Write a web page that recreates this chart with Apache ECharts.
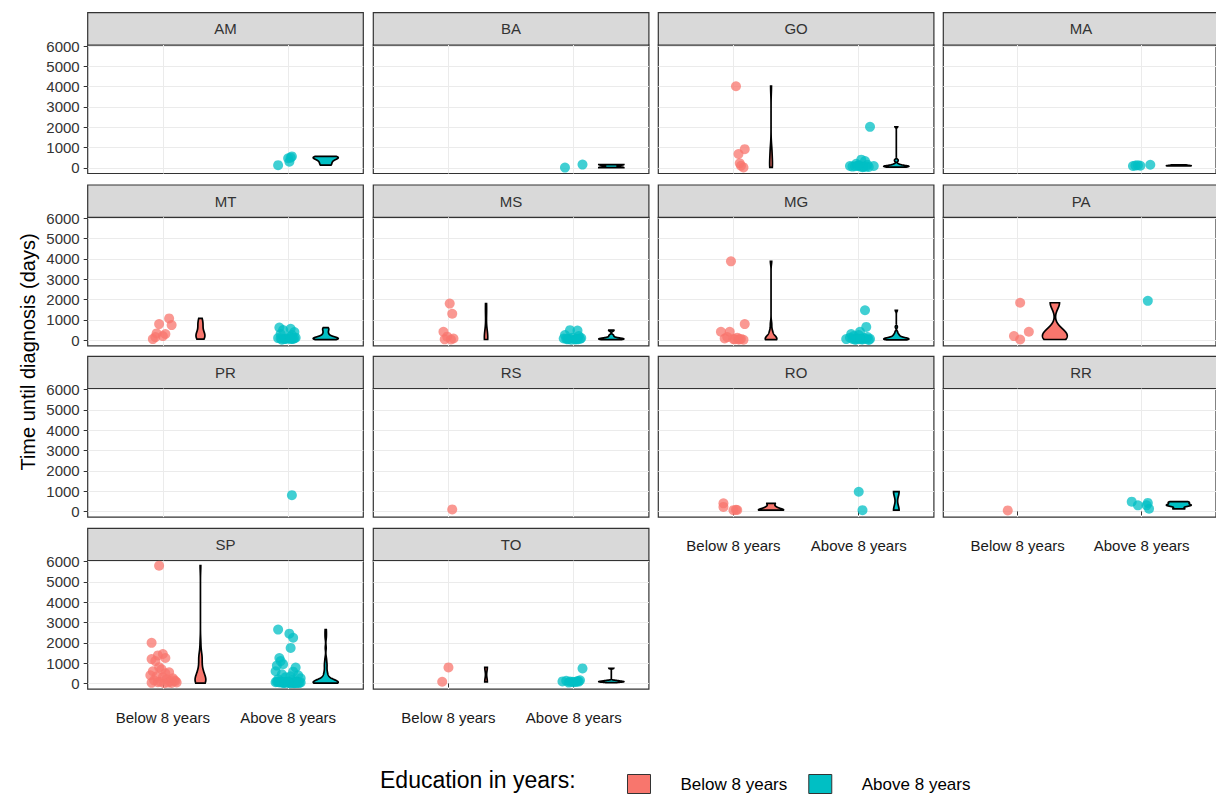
<!DOCTYPE html>
<html>
<head>
<meta charset="utf-8">
<script src="https://cdn.jsdelivr.net/npm/echarts@6/dist/echarts.min.js"></script>
<style>
html, body { margin: 0; background: #fff; }
#main { width: 1216px; height: 794px; }
</style>
</head>
<body>
<div id="main"></div>
<script>
// groups and y ticks
const groups = ['Below 8 years', 'Above 8 years'];
const yTicks = [0, 1000, 2000, 3000, 4000, 5000, 6000];

// points per state and group: [jitter around category, days]
const amBelow = [];
const amAbove = [[-0.08, 130], [0.01, 300], [0.03, 560], [0.02, 500], [0.0, 470]];
const baBelow = [];
const baAbove = [[-0.07, 10], [0.07, 160]];
const goBelow = [[0.02, 4020], [0.09, 920], [0.04, 680], [0.05, 220], [0.08, 20], [0.06, 100]];
const goAbove = [[0.09, 2020], [-0.07, 90], [0.0, 130], [0.05, 330], [0.12, 90], [0.03, 30], [-0.02, 200], [0.07, 150], [0.02, 400],
  [-0.05, 60], [0.01, 70], [0.04, 50], [-0.03, 80], [0.06, 60], [0.08, 40], [-0.01, 90]];
const maBelow = [];
const maAbove = [[-0.07, 90], [-0.05, 110], [-0.03, 130], [-0.01, 100], [0.07, 150]];
const mtBelow = [[-0.08, 50], [-0.03, 790], [-0.05, 330], [0.0, 200], [0.02, 300], [0.05, 1070], [0.07, 740], [-0.06, 150]];
const mtAbove = [[-0.07, 620], [-0.04, 500], [0.02, 560], [0.05, 400], [-0.06, 300], [0.03, 250], [-0.08, 100], [-0.03, 50], [0.0, 80],
  [0.06, 120], [-0.05, 20], [0.04, 60], [0.01, 150], [-0.02, 60], [0.03, 70], [-0.06, 80], [0.05, 90], [0.02, 50]];
const msBelow = [[0.01, 1800], [0.03, 1300], [-0.04, 410], [-0.01, 170], [0.04, 80], [-0.03, 40], [0.02, 30]];
const msAbove = [[-0.07, 250], [-0.03, 490], [0.03, 470], [0.04, 200], [-0.01, 120], [-0.08, 80], [-0.05, 40], [0.01, 30], [0.05, 60],
  [-0.02, 20], [0.06, 100], [0.02, 50], [-0.04, 60], [0.03, 40], [-0.06, 70]];
const mgBelow = [[-0.02, 3880], [0.09, 790], [-0.1, 410], [-0.03, 410], [-0.07, 80], [0.01, 40], [0.04, 30], [0.08, 20], [0.06, 60],
  [-0.05, 150], [0.03, 120], [0.0, 50], [0.05, 40]];
const mgAbove = [[0.05, 1470], [0.06, 650], [0.01, 410], [-0.1, 50], [-0.07, 120], [-0.04, 200], [-0.01, 80], [0.03, 30], [0.07, 150],
  [0.09, 60], [-0.06, 300], [0.0, 250], [0.04, 100], [-0.03, 20], [0.08, 10], [0.02, 40], [-0.05, 60], [0.06, 50], [-0.02, 30], [0.01, 70]];
const paBelow = [[0.02, 1840], [0.09, 410], [-0.03, 200], [0.02, 30]];
const paAbove = [[0.05, 1935]];
const prBelow = [];
const prAbove = [[0.03, 800]];
const rsBelow = [[0.03, 100]];
const rsAbove = [];
const roBelow = [[-0.08, 400], [-0.08, 220], [0.02, 80], [0.0, 60], [0.03, 70]];
const roAbove = [[0.0, 970], [0.03, 60]];
const rrBelow = [[-0.08, 50]];
const rrAbove = [[-0.08, 480], [-0.03, 300], [0.05, 420], [0.06, 130], [0.04, 300]];
const spBelow = [[-0.03, 5800], [-0.09, 2000], [0.0, 1450], [-0.04, 1380], [-0.09, 1200], [0.02, 1250], [-0.06, 1100], [-0.03, 800],
  [-0.08, 600], [0.05, 550], [-0.1, 400], [-0.05, 350], [0.0, 300], [0.08, 250], [0.03, 200], [-0.07, 150], [0.1, 120], [0.06, 100],
  [-0.02, 80], [0.11, 50], [0.04, 40], [-0.09, 30], [0.07, 20], [0.01, 10], [-0.04, 60], [0.09, 150], [0.02, 500], [-0.01, 700]];
const spAbove = [[-0.08, 2650], [0.01, 2450], [0.04, 2250], [0.02, 1750], [-0.07, 1250], [-0.04, 950], [-0.09, 880], [0.06, 780],
  [0.04, 580], [-0.1, 600], [-0.05, 450], [0.08, 400], [-0.02, 300], [0.1, 250], [-0.08, 200], [0.03, 150], [0.07, 100], [-0.06, 80],
  [0.0, 50], [0.09, 30], [-0.03, 20], [0.05, 10], [-0.1, 60], [0.02, 350], [-0.06, 1100],
  [0.0, 40], [0.03, 60], [-0.04, 30], [0.06, 70], [-0.07, 50], [0.08, 20], [-0.01, 90], [0.05, 40], [-0.09, 80], [0.02, 10],
  [0.01, 30], [-0.05, 50], [0.07, 40], [-0.02, 60], [0.04, 20], [-0.08, 70], [0.1, 50], [-0.03, 40], [0.06, 30], [0.0, 60]];
const toBelow = [[0.0, 790], [-0.05, 80]];
const toAbove = [[0.07, 740], [-0.09, 100], [-0.06, 130], [-0.03, 90], [0.0, 60], [0.03, 120], [0.05, 150], [-0.04, 40],
  [0.02, 70], [-0.01, 80], [0.04, 90]];

const panels = [
  ['AM', amBelow, amAbove], ['BA', baBelow, baAbove], ['GO', goBelow, goAbove], ['MA', maBelow, maAbove],
  ['MT', mtBelow, mtAbove], ['MS', msBelow, msAbove], ['MG', mgBelow, mgAbove], ['PA', paBelow, paAbove],
  ['PR', prBelow, prAbove], ['RS', rsBelow, rsAbove], ['RO', roBelow, roAbove], ['RR', rrBelow, rrAbove],
  ['SP', spBelow, spAbove], ['TO', toBelow, toAbove]
];

const colors = ['#F8766D', '#00BFC4'];
const font = 'Liberation Sans, Arial, sans-serif';
const colLeft = [87.7, 373.3, 658.3, 943.3];
const stripTop = [12.7, 185, 356.3, 528.3];
const panelW = 275.6, stripH = 32.3, plotH = 128.5;
const xLabelPanels = ['RO', 'RR', 'SP', 'TO'];
const violinNudge = 0.3, violinWidth = 0.2;

// kernel density like R density(bw = "nrd0"), trimmed to data range
function quantile(s, p) {
  const h = (s.length - 1) * p, lo = Math.floor(h);
  const hi = Math.min(lo + 1, s.length - 1);
  return s[lo] + (h - lo) * (s[hi] - s[lo]);
}
function bwNrd0(s) {
  const n = s.length;
  const mean = s.reduce((a, b) => a + b, 0) / n;
  const sd = Math.sqrt(s.reduce((a, b) => a + (b - mean) * (b - mean), 0) / (n - 1));
  let lo = Math.min(sd, (quantile(s, 0.75) - quantile(s, 0.25)) / 1.34);
  if (!lo) lo = sd || Math.abs(s[0]) || 1;
  return 0.9 * lo * Math.pow(n, -0.2);
}
function kde(vals) {
  const s = vals.slice().sort((a, b) => a - b);
  const bw = bwNrd0(s), n = s.length, out = [];
  for (let k = 0; k < 256; k++) {
    const y = s[0] + (s[n - 1] - s[0]) * k / 255;
    let d = 0;
    s.forEach(v => { const u = (y - v) / bw; d += Math.exp(-0.5 * u * u); });
    out.push({ y: y, d: d / (n * bw * Math.sqrt(2 * Math.PI)) });
  }
  return out;
}

const grids = [], xAxes = [], yAxes = [], series = [], graphics = [];

panels.forEach(function (p, i) {
  const name = p[0], row = Math.floor(i / 4), col = i % 4;
  const left = colLeft[col], top = stripTop[row] + stripH;
  const showX = xLabelPanels.indexOf(name) >= 0;

  grids.push({ left: left, top: top, width: panelW, height: plotH, show: true,
    borderColor: '#333', borderWidth: 1.2, backgroundColor: '#fff' });
  xAxes.push({
    gridIndex: i, type: 'value', min: 0.4, max: 2.6,
    axisLine: { show: false },
    axisTick: { show: showX, customValues: [1, 2], length: 4, lineStyle: { color: '#333' } },
    axisLabel: { show: showX, customValues: [1, 2], margin: 21, fontSize: 15, fontFamily: font, color: '#1a1a1a',
      formatter: v => groups[Math.round(v) - 1] },
    splitLine: { show: true, lineStyle: { color: '#EBEBEB', width: 1 } }
  });
  yAxes.push({
    gridIndex: i, type: 'value', min: -280, max: 6050,
    axisLine: { show: false },
    axisTick: { show: col === 0, customValues: yTicks, length: 4, lineStyle: { color: '#333' } },
    axisLabel: { show: col === 0, customValues: yTicks, margin: 8, fontSize: 15, fontFamily: font, color: '#333',
      formatter: v => String(v) },
    splitLine: { show: true, lineStyle: { color: '#EBEBEB', width: 1 } }
  });

  // strip header
  graphics.push({ type: 'rect', shape: { x: left, y: stripTop[row], width: panelW, height: stripH },
    style: { fill: '#D9D9D9', stroke: '#333', lineWidth: 1.2 } });
  graphics.push({ type: 'text', x: left + panelW / 2, y: stripTop[row] + stripH / 2,
    style: { text: name, font: '15px ' + font, fill: '#333', align: 'center', verticalAlign: 'middle' } });

  // violins, scaled by the largest density in the panel
  const dens = [null, null];
  let maxD = 0;
  [p[1], p[2]].forEach(function (pts, gi) {
    if (pts.length >= 2) {
      dens[gi] = kde(pts.map(q => q[1]));
      dens[gi].forEach(o => { maxD = Math.max(maxD, o.d); });
    }
  });
  const vData = [];
  dens.forEach((d, gi) => { if (d) vData.push([gi + 1 + violinNudge, gi]); });
  if (vData.length) {
    series.push({
      type: 'custom', xAxisIndex: i, yAxisIndex: i, silent: true, z: 3,
      data: vData,
      renderItem: function (params, api) {
        const xc = api.value(0), gi = api.value(1), d = dens[gi], hw = violinWidth / 2;
        const right = d.map(o => api.coord([xc + o.d / maxD * hw, o.y]));
        const leftSide = d.slice().reverse().map(o => api.coord([xc - o.d / maxD * hw, o.y]));
        return { type: 'polygon', shape: { points: right.concat(leftSide) },
          style: { fill: colors[gi], stroke: '#000', lineWidth: 1.7 } };
      }
    });
  }

  // jittered points
  [p[1], p[2]].forEach(function (pts, gi) {
    series.push({
      name: groups[gi], type: 'scatter', xAxisIndex: i, yAxisIndex: i, silent: true, z: 2,
      symbolSize: 10,
      itemStyle: { color: colors[gi], opacity: 0.75 },
      data: pts.map(q => [gi + 1 + q[0], q[1]])
    });
  });
});

graphics.push({ type: 'text', x: 28, y: 352, rotation: Math.PI / 2,
  style: { text: 'Time until diagnosis (days)', font: '20px ' + font, fill: '#000', align: 'center', verticalAlign: 'middle' } });
graphics.push({ type: 'text', x: 380, y: 780,
  style: { text: 'Education in years:', font: '23px ' + font, fill: '#000', align: 'left', verticalAlign: 'middle' } });

const chart = echarts.init(document.getElementById('main'), null, { renderer: 'svg' });
chart.setOption({
  backgroundColor: '#fff',
  animation: false,
  grid: grids,
  xAxis: xAxes,
  yAxis: yAxes,
  legend: {
    left: 627, top: 774, padding: 0, itemWidth: 23, itemHeight: 19, itemGap: 21,
    selectedMode: false,
    textStyle: { fontSize: 17, fontFamily: font, color: '#000', padding: [0, 0, 0, 25] },
    data: [
      { name: groups[0], icon: 'rect', itemStyle: { color: colors[0], opacity: 1, borderColor: '#333', borderWidth: 1 } },
      { name: groups[1], icon: 'rect', itemStyle: { color: colors[1], opacity: 1, borderColor: '#333', borderWidth: 1 } }
    ]
  },
  graphic: graphics,
  series: series
});
</script>
</body>
</html>
